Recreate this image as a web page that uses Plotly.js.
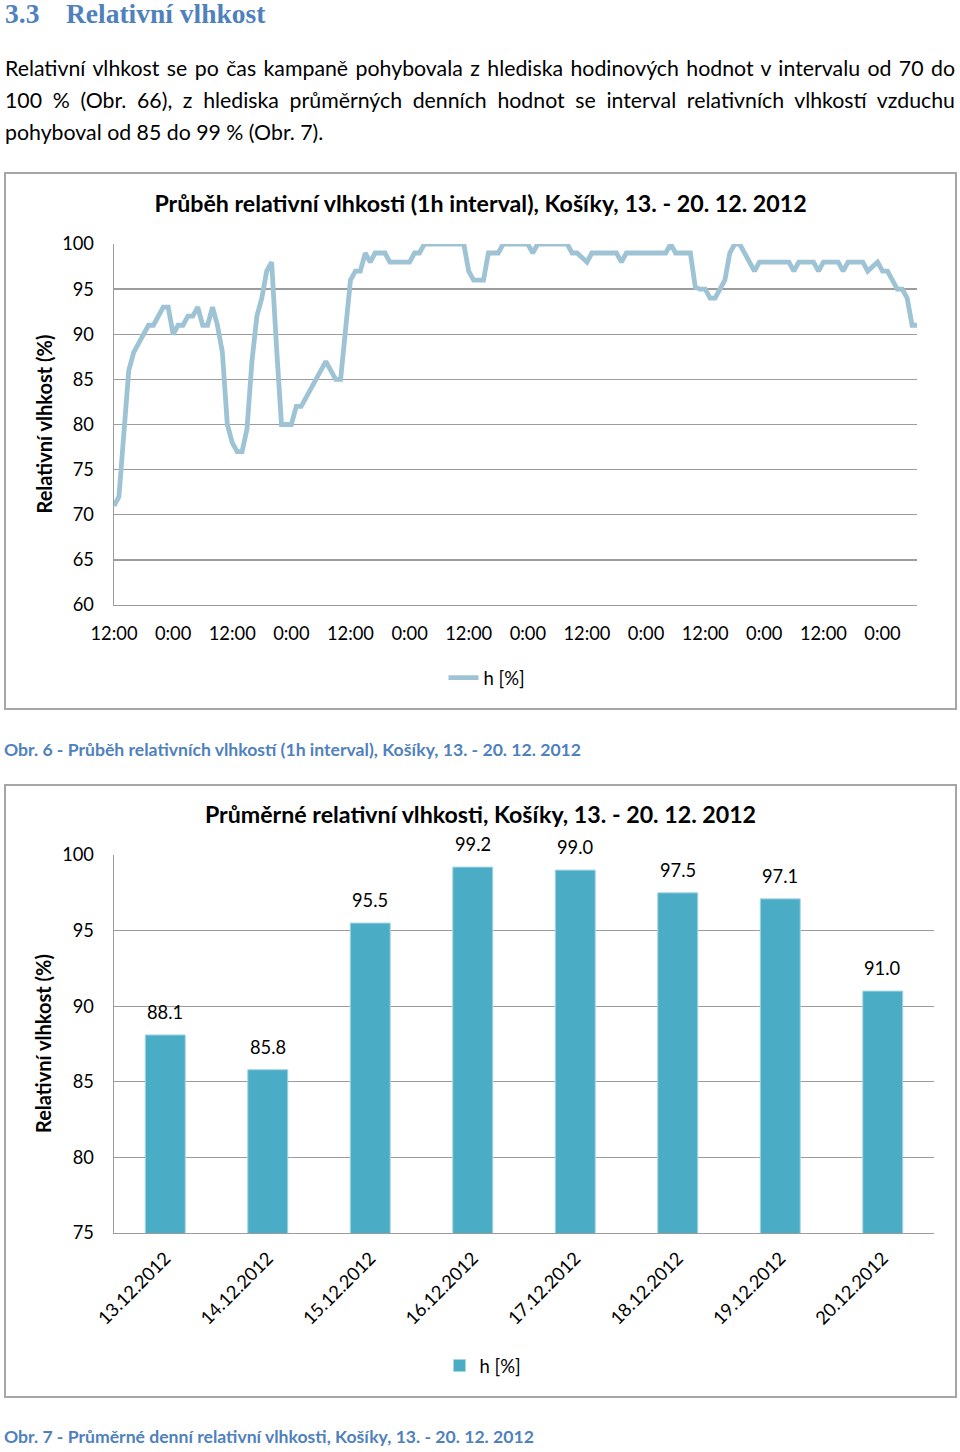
<!DOCTYPE html>
<html><head><meta charset="utf-8">
<script src="https://cdn.plot.ly/plotly-3.0.1.min.js"></script>
<style>
body{margin:0;background:#fff;width:960px;height:1452px;position:relative;overflow:hidden;font-family:Lato,sans-serif;color:#000;}
.h{position:absolute;top:1px;font-family:'Liberation Serif',serif;font-weight:bold;font-size:27.5px;line-height:26px;color:#4f81bd;white-space:nowrap;}
.p{position:absolute;left:5px;width:950px;font-size:21.3px;line-height:32px;text-align:justify;text-align-last:justify;}
.p.last{text-align-last:left;}
.cap{position:absolute;left:4px;font-weight:bold;font-size:17.6px;line-height:20px;color:#4f81bd;white-space:nowrap;}
.box{position:absolute;left:4px;width:953px;box-sizing:border-box;border:2px solid #a6a6a6;}
</style></head>
<body>
<div class="h" style="left:5px">3.3</div>
<div class="h" style="left:66px">Relativní vlhkost</div>
<div class="p" style="top:52px">Relativní vlhkost se po čas kampaně pohybovala z hlediska hodinových hodnot v intervalu od 70 do</div>
<div class="p" style="top:84px">100 % (Obr. 66), z hlediska průměrných denních hodnot se interval relativních vlhkostí vzduchu</div>
<div class="p last" style="top:116px">pohyboval od 85 do 99 % (Obr. 7).</div>

<div class="box" style="top:172px;height:538px"><div id="c1" style="width:949px;height:534px"></div></div>
<div class="cap" style="top:740px">Obr. 6 - Průběh relativních vlhkostí (1h interval), Košíky, 13. - 20. 12. 2012</div>

<div class="box" style="top:784px;height:614px"><div id="c2" style="width:949px;height:610px"></div></div>
<div class="cap" style="top:1427px">Obr. 7 - Průměrné denní relativní vlhkosti, Košíky, 13. - 20. 12. 2012</div>

<script>
// ---- Data: hourly relative humidity from 13.12.2012 12:00 ----
const startHour = Date.UTC(2012, 11, 13, 12);
const hourlyHumidity = [
  71, 72, 79, 86, 88, 89, 90, 91, 91, 92, 93, 93,
  90, 91, 91, 92, 92, 93, 91, 91, 93, 91, 88, 80,
  78, 77, 77, 79.5, 87, 92, 94, 97, 98, 88.5, 80, 80,
  80, 82, 82, 83, 84, 85, 86, 87, 86, 85, 85, 90,
  96, 97, 97, 99, 98, 99, 99, 99, 98, 98, 98, 98,
  98, 99, 99, 100, 100, 100, 100, 100, 100, 100, 100, 100,
  97, 96, 96, 96, 99, 99, 99, 100, 100, 100, 100, 100,
  100, 99, 100, 100, 100, 100, 100, 100, 100, 99, 99, 98.5,
  98, 99, 99, 99, 99, 99, 99, 98, 99, 99, 99, 99,
  99, 99, 99, 99, 99, 100, 99, 99, 99, 99, 95.2, 95,
  95, 94, 94, 95, 96, 99, 100, 100, 99, 98, 97, 98,
  98, 98, 98, 98, 98, 98, 97, 98, 98, 98, 98, 97,
  98, 98, 98, 98, 97, 98, 98, 98, 98, 97, 97.5, 98,
  97, 97, 96, 95, 95, 94, 91, 91
];
const hourlyTimes = hourlyHumidity.map((_, i) =>
  new Date(startHour + i * 3600000).toISOString().slice(0, 16).replace('T', ' '));

// ---- Data: daily means ----
const dayLabels = ['13.12.2012', '14.12.2012', '15.12.2012', '16.12.2012',
                   '17.12.2012', '18.12.2012', '19.12.2012', '20.12.2012'];
const dailyHumidity = [88.1, 85.8, 95.5, 99.2, 99.0, 97.5, 97.1, 91.0];

const seriesName = 'h [%]';
const yTitle = 'Relativní vlhkost (%)';
const title1 = 'Průběh relativní vlhkosti (1h interval), Košíky, 13. - 20. 12. 2012';
const title2 = 'Průměrné relativní vlhkosti, Košíky, 13. - 20. 12. 2012';

const FONT = 'Lato, sans-serif';
const GRID = '#9c9c9c';

Plotly.newPlot('c1', [{
  type: 'scatter', mode: 'lines', name: seriesName,
  x: hourlyTimes, y: hourlyHumidity,
  line: {color: '#9dc3d4', width: 4.8}
}], {
  width: 949, height: 534,
  margin: {l: 108, r: 38, t: 70, b: 102},
  paper_bgcolor: '#fff', plot_bgcolor: '#fff',
  font: {family: FONT, size: 18, color: '#000'},
  title: {text: '<b>' + title1 + '</b>', font: {family: FONT, size: 23.2, color: '#000'},
          x: 0.5, xref: 'container', y: 1 - 30/534, yref: 'container', yanchor: 'middle'},
  xaxis: {type: 'date', range: [hourlyTimes[0], hourlyTimes[hourlyTimes.length - 1]],
          tick0: hourlyTimes[0], dtick: 43200000, tickformat: '%-H:%M',
          showgrid: false, zeroline: false, showline: true, linecolor: GRID, linewidth: 1.4,
          ticks: '', ticklabelstandoff: 12, tickfont: {size: 18.3}},
  yaxis: {range: [60, 100], dtick: 5, showgrid: true, gridcolor: GRID, gridwidth: 1.4,
          zeroline: false, showline: true, linecolor: GRID, linewidth: 1.4,
          ticks: '', ticklabelstandoff: 15, tickfont: {size: 18.3}},
  showlegend: true,
  legend: {orientation: 'h', x: (487 - 114) / 803, xanchor: 'center', y: -(678 - 606) / 362,
           yanchor: 'middle', font: {size: 18.5}},
  annotations: [{text: '<b>' + yTitle + '</b>', xref: 'paper', yref: 'paper', x: 0, y: 0.5,
                 xanchor: 'center', yanchor: 'middle',
                 xshift: -71, textangle: -90, showarrow: false, font: {size: 20}}]
}, {staticPlot: true});

Plotly.newPlot('c2', [{
  type: 'bar', name: seriesName, x: dayLabels, y: dailyHumidity,
  marker: {color: '#4bacc6', line: {color: '#a8d6e3', width: 1}}
}], {
  width: 949, height: 610,
  margin: {l: 108, r: 21, t: 69, b: 162},
  paper_bgcolor: '#fff', plot_bgcolor: '#fff',
  font: {family: FONT, size: 18, color: '#000'},
  bargap: 0.61,
  title: {text: '<b>' + title2 + '</b>', font: {family: FONT, size: 23.2, color: '#000'},
          x: 0.5, xref: 'container', y: 1 - 29/610, yref: 'container', yanchor: 'middle'},
  xaxis: {type: 'category', tickangle: -45, showgrid: false, zeroline: false,
          showline: true, linecolor: GRID, linewidth: 1.4, ticks: '', ticklabelstandoff: 6,
          tickfont: {size: 18.3}},
  yaxis: {range: [75, 100], dtick: 5, showgrid: true, gridcolor: GRID, gridwidth: 1.4,
          zeroline: false, showline: true, linecolor: GRID, linewidth: 1.4,
          ticks: '', ticklabelstandoff: 15, tickfont: {size: 18.3}},
  showlegend: true,
  legend: {orientation: 'h', x: (483 - 114) / 820, xanchor: 'center', y: -(1366 - 1234) / 379,
           yanchor: 'middle', font: {size: 18.5}},
  annotations: [{text: '<b>' + yTitle + '</b>', xref: 'paper', yref: 'paper', x: 0, y: 0.5,
                 xanchor: 'center', yanchor: 'middle',
                 xshift: -71, textangle: -90, showarrow: false, font: {size: 20}}]
    .concat(dayLabels.map((d, i) => ({
      text: dailyHumidity[i].toFixed(1), x: d, y: dailyHumidity[i], xref: 'x', yref: 'y',
      yanchor: 'bottom', yshift: 10, showarrow: false, font: {size: 18.3}
    })))
}, {staticPlot: true});
</script>
</body></html>
